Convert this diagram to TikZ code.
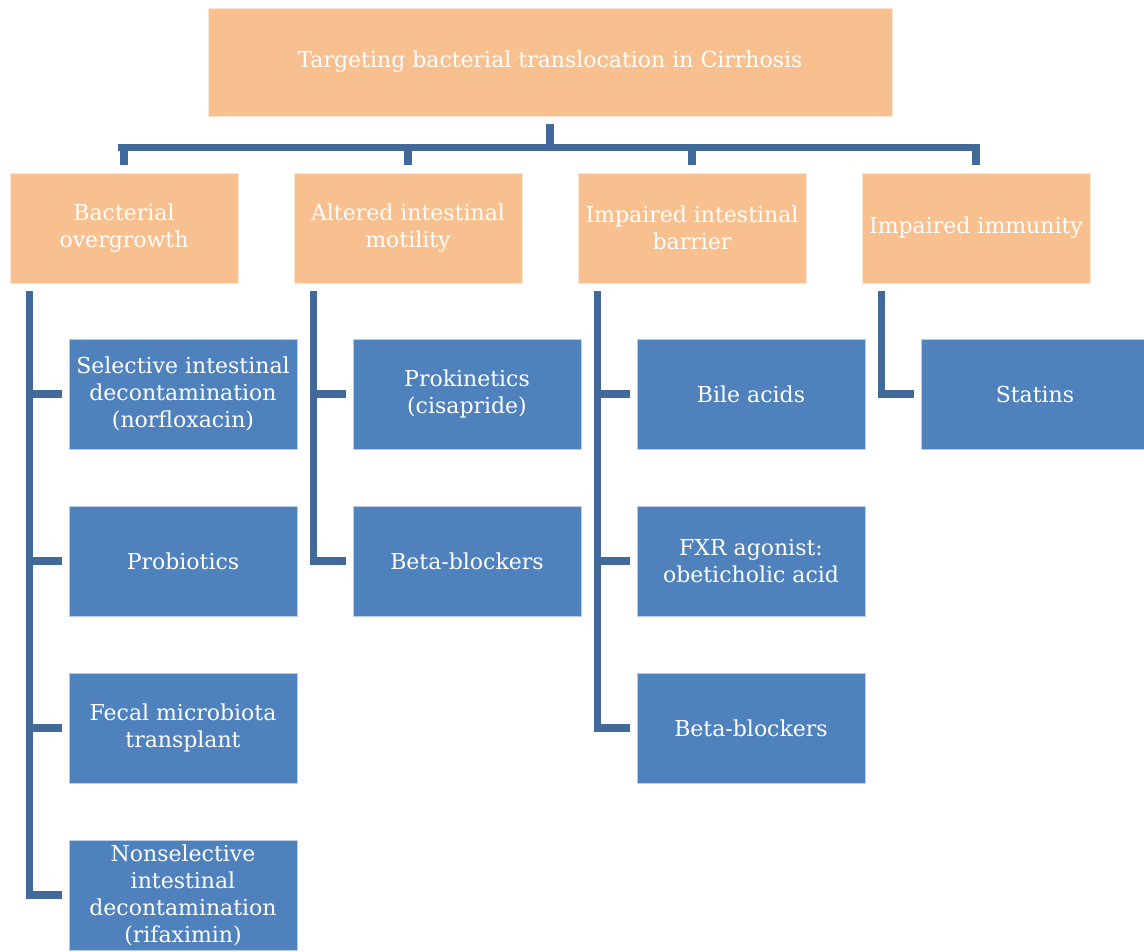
\documentclass[tikz,border=0pt]{standalone}
\usepackage{fontspec}
\setmainfont{DejaVu Serif}
\usetikzlibrary{positioning}
\definecolor{peach}{HTML}{F9C08F}
\definecolor{boxblue}{HTML}{4F81BD}
\definecolor{linkblue}{HTML}{41699A}
\tikzset{
  headbox/.style={fill=peach, draw=white!60!peach, line width=0.6pt, text=white,
    minimum width=228pt, minimum height=110pt, align=center,
    font=\fontsize{22}{27}\selectfont, inner sep=1pt},
  itembox/.style={fill=boxblue, draw=white!60!boxblue, line width=0.6pt, text=white,
    minimum width=228pt, minimum height=110pt, align=center,
    font=\fontsize{22}{27}\selectfont, inner sep=1pt},
  conn/.style={draw=linkblue, line width=7.5pt}
}
\begin{document}
\begin{tikzpicture}[x=1pt, y=-1pt]
    \useasboundingbox (0,0) rectangle (1144,952);
    % root
    \node[headbox, minimum width=684pt, minimum height=108pt] (top) at (550,62)
        {Targeting bacterial translocation in Cirrhosis};
    % categories
    \node[headbox] (c1) at (124,228) {Bacterial\\overgrowth};
    \node[headbox] (c2) at (408,228) {Altered intestinal\\motility};
    \node[headbox] (c3) at (692,228) {Impaired intestinal\\barrier};
    \node[headbox] (c4) at (976,228) {Impaired immunity};
    % treatments
    \node[itembox] (i11) at (183,394) {Selective intestinal\\decontamination\\(norfloxacin)};
    \node[itembox] (i12) at (183,561) {Probiotics};
    \node[itembox] (i13) at (183,728) {Fecal microbiota\\transplant};
    \node[itembox] (i14) at (183,895) {Nonselective\\intestinal\\decontamination\\(rifaximin)};
    \node[itembox] (i21) at (467,394) {Prokinetics\\(cisapride)};
    \node[itembox] (i22) at (467,561) {Beta-blockers};
    \node[itembox] (i31) at (751,394) {Bile acids};
    \node[itembox] (i32) at (751,561) {FXR agonist:\\obeticholic acid};
    \node[itembox] (i33) at (751,728) {Beta-blockers};
    \node[itembox] (i41) at (1035,394) {Statins};
    % root to categories
    \coordinate (bus) at ([yshift=-31pt]top.south);
    \draw[conn] ([yshift=-8pt]top.south) -- (bus);
    \draw[conn] ([xshift=-5.75pt]bus -| c1) -- ([xshift=3.75pt]bus -| c4);
    \foreach \c in {c1,c2,c3,c4} {
        \draw[conn] (bus -| \c) -- ([yshift=8pt]\c.north);
    }
    % categories to treatments
    \foreach \c/\last in {c1/i14, c2/i22, c3/i33, c4/i41} {
        \coordinate (s\c) at ([xshift=20pt,yshift=-8pt]\c.south west);
        \draw[conn] (s\c) |- ([xshift=-7pt]\last.west);
    }
    \foreach \c/\i in {c1/i11, c1/i12, c1/i13, c2/i21, c3/i31, c3/i32} {
        \draw[conn] (\i.west -| s\c) -- ([xshift=-7pt]\i.west);
    }
\end{tikzpicture}
\end{document}
